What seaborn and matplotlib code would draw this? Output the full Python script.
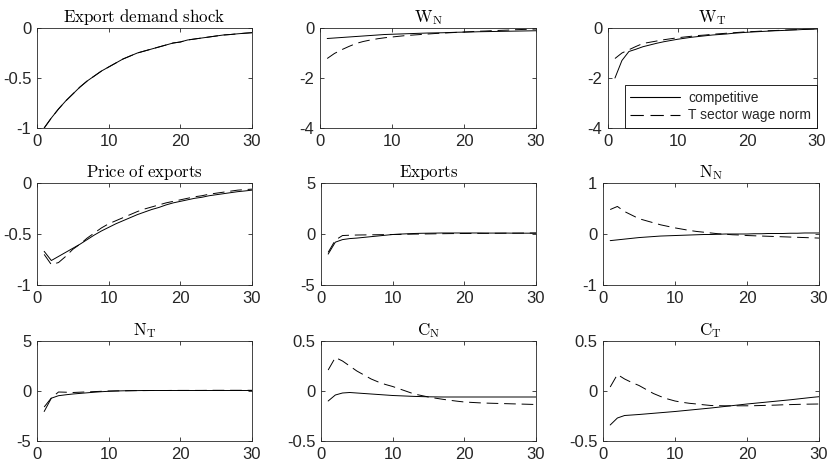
import numpy as np
import pandas as pd
import matplotlib
matplotlib.use("Agg")
import matplotlib.pyplot as plt
import seaborn as sns

periods = list(range(1, 31))

shock_comp = [-1.0, -0.9, -0.81, -0.73, -0.66, -0.59, -0.53, -0.48, -0.43, -0.39,
              -0.35, -0.31, -0.28, -0.25, -0.23, -0.21, -0.19, -0.17, -0.15, -0.14,
              -0.12, -0.11, -0.10, -0.09, -0.08, -0.07, -0.065, -0.058, -0.052, -0.047]
shock_norm = [-1.0, -0.9, -0.81, -0.73, -0.66, -0.59, -0.53, -0.48, -0.43, -0.39,
              -0.35, -0.31, -0.28, -0.25, -0.23, -0.21, -0.19, -0.17, -0.15, -0.14,
              -0.12, -0.11, -0.10, -0.09, -0.08, -0.07, -0.065, -0.058, -0.052, -0.047]

wn_comp = [-0.42, -0.40, -0.38, -0.36, -0.34, -0.32, -0.30, -0.28, -0.26, -0.25,
           -0.24, -0.23, -0.22, -0.21, -0.20, -0.195, -0.19, -0.18, -0.17, -0.165,
           -0.16, -0.15, -0.145, -0.14, -0.135, -0.13, -0.125, -0.12, -0.115, -0.11]
wn_norm = [-1.22, -1.02, -0.87, -0.74, -0.62, -0.54, -0.48, -0.43, -0.39, -0.36,
           -0.33, -0.30, -0.28, -0.26, -0.24, -0.22, -0.205, -0.19, -0.175, -0.16,
           -0.145, -0.13, -0.12, -0.105, -0.095, -0.085, -0.07, -0.06, -0.05, -0.04]

wt_comp = [-2.0, -1.3, -0.94, -0.85, -0.75, -0.68, -0.61, -0.55, -0.50, -0.45,
           -0.41, -0.37, -0.34, -0.31, -0.28, -0.26, -0.24, -0.21, -0.19, -0.17,
           -0.155, -0.14, -0.125, -0.11, -0.10, -0.085, -0.075, -0.06, -0.05, -0.04]
wt_norm = [-1.22, -1.0, -0.87, -0.74, -0.62, -0.57, -0.52, -0.47, -0.43, -0.39,
           -0.36, -0.33, -0.30, -0.28, -0.25, -0.23, -0.21, -0.19, -0.17, -0.15,
           -0.14, -0.125, -0.11, -0.10, -0.09, -0.075, -0.065, -0.05, -0.04, -0.03]

px_comp = [-0.67, -0.76, -0.72, -0.68, -0.64, -0.60, -0.555, -0.51, -0.47, -0.435,
           -0.40, -0.37, -0.34, -0.31, -0.285, -0.26, -0.24, -0.215, -0.195, -0.18,
           -0.165, -0.15, -0.14, -0.125, -0.115, -0.105, -0.095, -0.085, -0.078, -0.07]
px_norm = [-0.70, -0.80, -0.78, -0.72, -0.65, -0.60, -0.54, -0.49, -0.44, -0.40,
           -0.37, -0.34, -0.31, -0.28, -0.255, -0.235, -0.215, -0.195, -0.18, -0.165,
           -0.15, -0.135, -0.125, -0.11, -0.10, -0.09, -0.08, -0.07, -0.065, -0.06]

ex_comp = [-1.97, -0.80, -0.55, -0.45, -0.40, -0.33, -0.26, -0.19, -0.12, -0.05,
           -0.01, 0.02, 0.05, 0.07, 0.08, 0.09, 0.10, 0.10, 0.10, 0.10,
           0.10, 0.10, 0.09, 0.09, 0.09, 0.09, 0.08, 0.08, 0.08, 0.08]
ex_norm = [-1.80, -0.60, -0.15, -0.12, -0.10, -0.09, -0.08, -0.07, -0.06, -0.05,
           -0.04, -0.02, -0.01, 0.0, 0.01, 0.02, 0.03, 0.04, 0.045, 0.05,
           0.055, 0.06, 0.065, 0.07, 0.075, 0.08, 0.085, 0.09, 0.095, 0.10]

nn_comp = [-0.13, -0.115, -0.10, -0.085, -0.07, -0.06, -0.05, -0.04, -0.035, -0.03,
           -0.025, -0.02, -0.015, -0.01, -0.01, -0.005, 0.0, 0.0, 0.0, 0.0,
           0.005, 0.005, 0.01, 0.01, 0.01, 0.015, 0.015, 0.02, 0.02, 0.02]
nn_norm = [0.48, 0.54, 0.44, 0.37, 0.30, 0.26, 0.22, 0.18, 0.15, 0.12,
           0.095, 0.07, 0.05, 0.035, 0.02, 0.005, -0.005, -0.015, -0.02, -0.03,
           -0.035, -0.04, -0.045, -0.05, -0.055, -0.06, -0.065, -0.07, -0.075, -0.08]

nt_comp = [-2.05, -0.72, -0.47, -0.38, -0.30, -0.24, -0.18, -0.12, -0.07, -0.03,
           0.0, 0.02, 0.03, 0.04, 0.05, 0.05, 0.05, 0.05, 0.05, 0.05,
           0.05, 0.05, 0.05, 0.05, 0.05, 0.05, 0.05, 0.05, 0.05, 0.05]
nt_norm = [-1.60, -0.70, -0.10, -0.12, -0.15, -0.12, -0.09, -0.06, -0.03, 0.0,
           0.01, 0.02, 0.03, 0.04, 0.04, 0.05, 0.05, 0.05, 0.06, 0.06,
           0.06, 0.06, 0.06, 0.07, 0.07, 0.07, 0.07, 0.07, 0.07, 0.07]

cn_comp = [-0.10, -0.04, -0.02, -0.015, -0.02, -0.025, -0.03, -0.035, -0.04, -0.045,
           -0.048, -0.051, -0.054, -0.056, -0.058, -0.059, -0.06, -0.06, -0.06, -0.06,
           -0.06, -0.06, -0.06, -0.06, -0.06, -0.06, -0.06, -0.06, -0.06, -0.06]
cn_norm = [0.21, 0.335, 0.30, 0.25, 0.20, 0.16, 0.12, 0.09, 0.065, 0.045,
           0.02, -0.005, -0.03, -0.045, -0.06, -0.072, -0.083, -0.093, -0.102, -0.11,
           -0.114, -0.118, -0.121, -0.123, -0.125, -0.127, -0.129, -0.131, -0.133, -0.135]

ct_comp = [-0.34, -0.27, -0.245, -0.24, -0.235, -0.229, -0.223, -0.217, -0.211, -0.205,
           -0.198, -0.191, -0.184, -0.177, -0.17, -0.162, -0.154, -0.146, -0.138, -0.13,
           -0.123, -0.116, -0.109, -0.102, -0.095, -0.088, -0.08, -0.072, -0.064, -0.057]
ct_norm = [0.04, 0.165, 0.12, 0.085, 0.055, 0.015, -0.025, -0.055, -0.08, -0.10,
           -0.113, -0.123, -0.13, -0.138, -0.145, -0.147, -0.148, -0.148, -0.148, -0.148,
           -0.147, -0.145, -0.143, -0.141, -0.138, -0.136, -0.134, -0.132, -0.131, -0.13]

titles = [r"$\mathrm{Export\ demand\ shock}$", r"$\mathrm{W_N}$", r"$\mathrm{W_T}$",
          r"$\mathrm{Price\ of\ exports}$", r"$\mathrm{Exports}$", r"$\mathrm{N_N}$",
          r"$\mathrm{N_T}$", r"$\mathrm{C_N}$", r"$\mathrm{C_T}$"]
series = [(shock_comp, shock_norm), (wn_comp, wn_norm), (wt_comp, wt_norm),
          (px_comp, px_norm), (ex_comp, ex_norm), (nn_comp, nn_norm),
          (nt_comp, nt_norm), (cn_comp, cn_norm), (ct_comp, ct_norm)]
ylims = [(-1, 0), (-4, 0), (-4, 0), (-1, 0), (-5, 5), (-1, 1), (-5, 5), (-0.5, 0.5), (-0.5, 0.5)]
yticks = [[-1, -0.5, 0], [-4, -2, 0], [-4, -2, 0], [-1, -0.5, 0], [-5, 0, 5], [-1, 0, 1],
          [-5, 0, 5], [-0.5, 0, 0.5], [-0.5, 0, 0.5]]
xticks = [0, 10, 20, 30]
labels = ["competitive", "T sector wage norm"]

sns.set_theme(style="ticks")
plt.rcParams["font.family"] = ["Liberation Sans", "DejaVu Sans"]
plt.rcParams["mathtext.fontset"] = "cm"

W, H = 829, 471
fig = plt.figure(figsize=(W / 100, H / 100), dpi=100)

# pixel boxes (left, right, top, bottom)
boxes = [
    (37, 252, 28, 128), (320, 536, 28, 128), (608, 817, 28, 128),
    (37, 252, 183, 285), (321, 536, 183, 285), (603, 819, 183, 285),
    (37, 252, 341, 441), (321, 536, 341, 441), (603, 819, 341, 441),
]

axcol = "#262626"

def fmt(v):
    if float(v).is_integer():
        return str(int(v))
    return str(v)

for i, (box, (comp, norm)) in enumerate(zip(boxes, series)):
    l, r, t, b = box
    ax = fig.add_axes([l / W, 1 - b / H, (r - l) / W, (b - t) / H])
    df = pd.DataFrame({
        "t": periods * 2,
        "v": comp + norm,
        "s": [labels[0]] * len(periods) + [labels[1]] * len(periods),
    })
    sns.lineplot(data=df, x="t", y="v", style="s", hue="s",
                 palette=["black", "black"],
                 dashes={labels[0]: "", labels[1]: (12, 6)},
                 linewidth=0.7, ax=ax, legend=(i == 2))
    ax.set_xlim(0, 30)
    ax.set_ylim(*ylims[i])
    ax.set_xticks(xticks)
    ax.set_xticklabels([fmt(v) for v in xticks])
    ax.set_yticks(yticks[i])
    ax.set_yticklabels([fmt(v) for v in yticks[i]])
    ax.set_xlabel("")
    ax.set_ylabel("")
    ax.set_title(titles[i], fontsize=12.2, color="black", pad=4)
    for sp in ax.spines.values():
        sp.set_visible(True)
        sp.set_linewidth(0.6)
        sp.set_color(axcol)
    ax.tick_params(direction="in", length=3, width=0.6, top=True, right=True,
                   labelsize=12, colors=axcol, pad=4)
    if i == 2:
        leg = ax.legend(loc="lower right", borderaxespad=0, fontsize=10,
                        frameon=True, fancybox=False, handlelength=3.6,
                        borderpad=0.4, labelspacing=0.25, handletextpad=0.6)
        leg.get_frame().set_edgecolor("black")
        leg.get_frame().set_linewidth(0.6)
        leg.get_frame().set_alpha(1)
        for h in leg.get_lines():
            h.set_linewidth(0.8)

fig.savefig("out.png", dpi=100)
